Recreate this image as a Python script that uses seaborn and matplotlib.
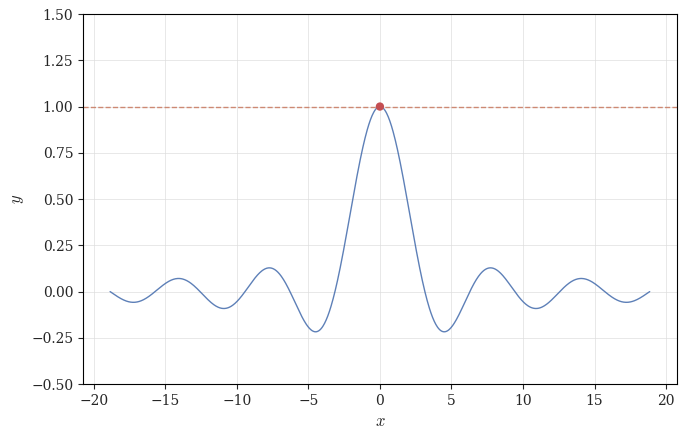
import numpy as np
import pandas as pd
import matplotlib
matplotlib.use("Agg")
import matplotlib.pyplot as plt
import seaborn as sns

# sinc curve y = sin(x)/x over [-6*pi, 6*pi]; peak marked at (0, 1)
x_min, x_max = -6 * np.pi, 6 * np.pi
n_points = 1000
peak_x, peak_y = [0.0], [1.0]
ref_level = 1.0
y_ticks = [-0.50, -0.25, 0.00, 0.25, 0.50, 0.75, 1.00, 1.25, 1.50]

x = np.linspace(x_min, x_max, n_points)
y = np.sinc(x / np.pi)
df = pd.DataFrame({"x": x, "y": y})

sns.set_style("ticks")
plt.rcParams["font.family"] = "DejaVu Serif"
plt.rcParams["mathtext.fontset"] = "cm"

fig, ax = plt.subplots(figsize=(6.87, 4.38), dpi=100)
sns.lineplot(data=df, x="x", y="y", ax=ax, color="#4c72b0", linewidth=1, alpha=0.9)
ax.axhline(ref_level, color="#c9785f", linestyle="--", linewidth=1, alpha=0.85)
sns.scatterplot(x=peak_x, y=peak_y, ax=ax, color="#c44e52", s=36, zorder=5, edgecolor="none")

ax.set_ylim(-0.5, 1.5)
ax.set_yticks(y_ticks)
ax.grid(True, color="#dddddd", linewidth=0.6, alpha=0.8)
ax.set_xlabel("$x$", fontsize=12)
ax.set_ylabel("$y$", fontsize=12)
for s in ax.spines.values():
    s.set_visible(True)
    s.set_color("black")

fig.subplots_adjust(left=0.121, right=0.985, top=0.968, bottom=0.123)
plt.savefig("out.png", dpi=100)
